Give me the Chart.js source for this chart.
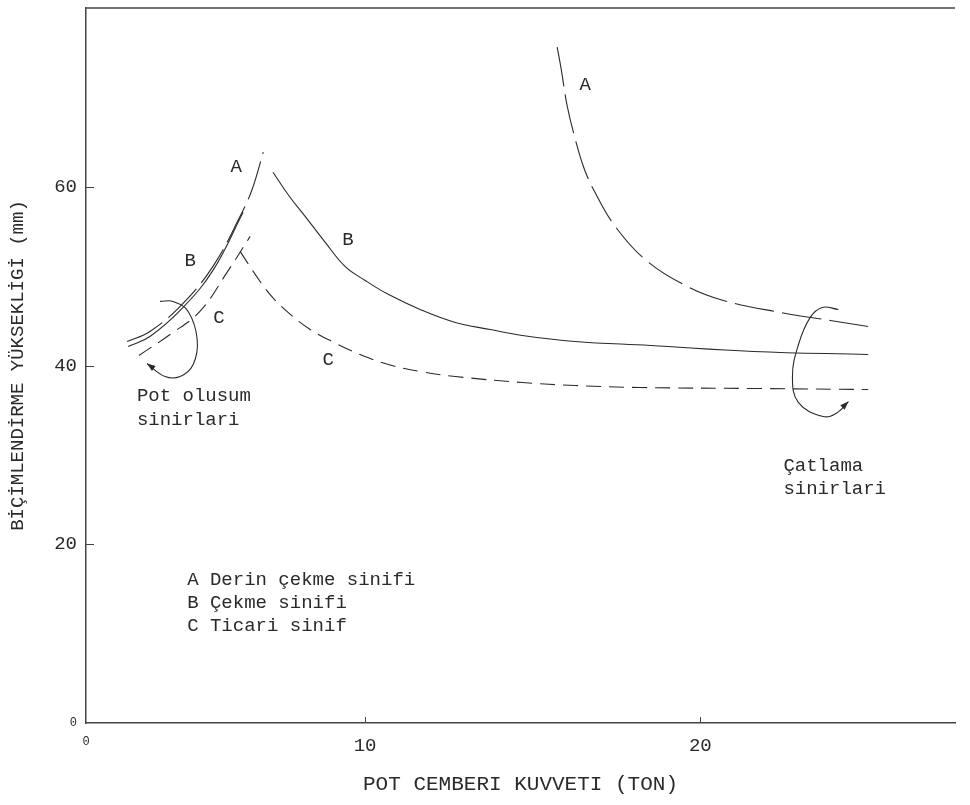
<!DOCTYPE html>
<html>
<head>
<meta charset="utf-8">
<title>Pot cemberi kuvveti</title>
<script src="https://cdn.jsdelivr.net/npm/chart.js@4/dist/chart.umd.min.js"></script>
<style>
  html, body { margin: 0; padding: 0; background: #fff; }
</style>
</head>
<body>
<canvas id="pot-chart" width="970" height="805"></canvas>
<script>
// axis range (left edge of the frame is labelled "0")
const xMin = 1.672;
const xMax = 27.6;
const yMin = 0;
const yMax = 80;
const xTickValues = [xMin, 10, 20];
const yTickValues = [0, 20, 40, 60];

// A - rising part (pot limit) and falling part (crack limit)
const aRiseX = [2.90, 3.58, 4.54, 5.46, 6.27, 6.63, 6.96];
const aRiseY = [42.69, 43.81, 46.83, 51.09, 56.69, 59.72, 63.87];
const aFallX = [15.73, 15.85, 16.03, 16.27, 16.51, 16.81, 17.46, 18.42, 19.61, 20.69, 22.39, 23.88, 25.01];
const aFallY = [75.63, 73.17, 69.02, 65.32, 62.30, 59.72, 55.57, 51.65, 48.85, 47.28, 45.94, 45.04, 44.37];

// B
const bRiseX = [2.93, 3.58, 4.54, 5.46, 6.36];
const bRiseY = [42.13, 43.25, 46.39, 50.64, 57.14];
const bFallX = [7.25, 7.76, 8.21, 8.81, 9.40, 10.00, 10.69, 11.64, 12.69, 13.73, 14.69, 16.27, 18.51, 21.58, 25.01];
const bFallY = [61.62, 58.82, 56.69, 53.78, 51.09, 49.52, 47.96, 46.27, 44.82, 44.03, 43.36, 42.69, 42.24, 41.57, 41.23];

// C
const cRiseX = [3.25, 4.18, 5.07, 5.88, 6.57];
const cRiseY = [41.12, 43.47, 46.05, 50.42, 54.45];
const cFallX = [6.27, 6.72, 7.16, 7.70, 8.36, 9.01, 9.85, 10.69, 11.64, 12.69, 14.69, 16.27, 18.21, 21.79, 25.01];
const cFallY = [52.77, 50.20, 47.96, 45.94, 44.03, 42.69, 41.23, 40.11, 39.33, 38.77, 38.10, 37.76, 37.54, 37.42, 37.31];

// loops round the limit zones
const potLoopX = [3.88, 4.27, 4.72, 4.99, 4.87, 4.48, 4.03, 3.49];
const potLoopY = [47.17, 47.17, 46.05, 42.91, 40.11, 38.77, 38.77, 40.22];
const crackLoopX = [24.12, 23.64, 23.28, 22.93, 22.75, 22.93, 23.67, 24.09, 24.42];
const crackLoopY = [46.27, 46.50, 45.38, 42.35, 38.77, 35.85, 34.29, 34.73, 35.97];

// texts on the plot
const curveLabels = ["A", "B", "C", "B", "C", "A"];
const curveLabelX = [6.15, 4.78, 5.64, 9.49, 8.90, 16.57];
const curveLabelY = [62.2, 51.65, 45.27, 54.0, 40.67, 71.37];
const legendLines = ["A Derin çekme sinifi", "B Çekme sinifi", "C Ticari sinif"];
const legendY = [16.02, 13.45, 10.87];
const legendX = 4.69;
const potText = ["Pot olusum", "sinirlari"];
const potTextY = [36.64, 33.95];
const potTextX = 3.19;
const crackText = ["Çatlama", "sinirlari"];
const crackTextY = [28.80, 26.22];
const crackTextX = 22.48;

const FONT = "'Liberation Mono', 'DejaVu Sans Mono', monospace";
const INK = "#2a2a2a";
const LONG_DASH = [40, 8];
const SHORT_DASH = [15, 8];

function pts(xs, ys) {
  return xs.map((x, i) => ({ x: x, y: ys[i] }));
}

function curve(label, xs, ys, dash) {
  return {
    label: label,
    data: pts(xs, ys),
    showLine: true,
    borderColor: INK,
    borderWidth: 1.1,
    borderDash: dash,
    pointRadius: 0,
    tension: 0.4,
    fill: false,
  };
}

// inner tick marks, top frame line, texts and arrow heads
const decorations = {
  id: "decorations",
  afterDraw(chart) {
    const ctx = chart.ctx;
    const xs = chart.scales.x;
    const ys = chart.scales.y;
    const area = chart.chartArea;

    ctx.save();
    ctx.strokeStyle = "#444";
    ctx.lineWidth = 1.5;
    ctx.beginPath();
    ctx.moveTo(area.left, area.top);
    ctx.lineTo(area.right, area.top);
    ctx.stroke();

    ctx.lineWidth = 1;
    ctx.beginPath();
    yTickValues.forEach((v) => {
      if (v === 0) return;
      const py = Math.round(ys.getPixelForValue(v)) + 0.5;
      ctx.moveTo(area.left, py);
      ctx.lineTo(area.left + 8, py);
    });
    xTickValues.forEach((v) => {
      if (v === xMin) return;
      const px = Math.round(xs.getPixelForValue(v)) + 0.5;
      ctx.moveTo(px, area.bottom);
      ctx.lineTo(px, area.bottom - 6);
    });
    ctx.stroke();

    ctx.fillStyle = INK;
    ctx.font = "19px " + FONT;
    ctx.textBaseline = "middle";
    ctx.textAlign = "center";
    curveLabels.forEach((t, i) => {
      ctx.fillText(t, xs.getPixelForValue(curveLabelX[i]), ys.getPixelForValue(curveLabelY[i]));
    });
    ctx.textAlign = "left";
    legendLines.forEach((t, i) => {
      ctx.fillText(t, xs.getPixelForValue(legendX), ys.getPixelForValue(legendY[i]));
    });
    potText.forEach((t, i) => {
      ctx.fillText(t, xs.getPixelForValue(potTextX), ys.getPixelForValue(potTextY[i]));
    });
    crackText.forEach((t, i) => {
      ctx.fillText(t, xs.getPixelForValue(crackTextX), ys.getPixelForValue(crackTextY[i]));
    });

    // arrow heads at the end of both loops
    [6, 7].forEach((di) => {
      const els = chart.getDatasetMeta(di).data;
      const tip = els[els.length - 1];
      const prev = els[els.length - 2];
      const ang = Math.atan2(tip.y - prev.y, tip.x - prev.x);
      const len = 9;
      ctx.beginPath();
      ctx.moveTo(tip.x, tip.y);
      ctx.lineTo(tip.x - len * Math.cos(ang - 0.35), tip.y - len * Math.sin(ang - 0.35));
      ctx.lineTo(tip.x - len * Math.cos(ang + 0.35), tip.y - len * Math.sin(ang + 0.35));
      ctx.closePath();
      ctx.fill();
    });
    ctx.restore();
  },
};

const chart = new Chart(document.getElementById("pot-chart").getContext("2d"), {
  type: "scatter",
  data: {
    datasets: [
      curve("A", aRiseX, aRiseY, LONG_DASH),
      curve("A", aFallX, aFallY, LONG_DASH),
      curve("B", bRiseX, bRiseY, []),
      curve("B", bFallX, bFallY, []),
      curve("C", cRiseX, cRiseY, SHORT_DASH),
      curve("C", cFallX, cFallY, SHORT_DASH),
      curve("pot", potLoopX, potLoopY, []),
      curve("catlama", crackLoopX, crackLoopY, []),
    ],
  },
  options: {
    responsive: false,
    animation: false,
    layout: { padding: { top: 8, right: 15, left: 0, bottom: 0 } },
    plugins: {
      legend: { display: false },
      tooltip: { enabled: false },
    },
    scales: {
      x: {
        type: "linear",
        min: xMin,
        max: xMax,
        afterBuildTicks: (axis) => {
          axis.ticks = xTickValues.map((v) => ({ value: v }));
        },
        afterFit: (axis) => {
          axis.height = 82;
          axis.paddingLeft = 0;
          axis.paddingRight = 0;
        },
        grid: { display: true, drawOnChartArea: false, drawTicks: false },
        border: { display: true, color: "#444", width: 1.5 },
        ticks: {
          padding: 12,
          color: INK,
          maxRotation: 0,
          autoSkip: false,
          font: (c) => (c.tick && c.tick.value === xMin ? { family: FONT, size: 12 } : { family: FONT, size: 19 }),
          callback: (v) => (v === xMin ? "0" : String(v)),
        },
        title: {
          display: true,
          text: "POT CEMBERI KUVVETI (TON)",
          color: INK,
          font: { family: FONT, size: 21 },
          padding: { top: 0, bottom: 8 },
        },
      },
      y: {
        type: "linear",
        min: yMin,
        max: yMax,
        afterBuildTicks: (axis) => {
          axis.ticks = yTickValues.map((v) => ({ value: v }));
        },
        afterFit: (axis) => {
          axis.width = 86;
          axis.paddingTop = 0;
          axis.paddingBottom = 0;
        },
        grid: { display: true, drawOnChartArea: false, drawTicks: false },
        border: { display: true, color: "#444", width: 1.5 },
        ticks: {
          padding: 9,
          color: INK,
          font: (c) => (c.tick && c.tick.value === 0 ? { family: FONT, size: 12 } : { family: FONT, size: 19 }),
          callback: (v) => String(v),
        },
        title: {
          display: true,
          text: "BİÇİMLENDİRME YÜKSEKLİGİ (mm)",
          color: INK,
          font: { family: FONT, size: 19 },
          padding: { top: 7, bottom: 0 },
        },
      },
    },
  },
  plugins: [decorations],
});
</script>
</body>
</html>
